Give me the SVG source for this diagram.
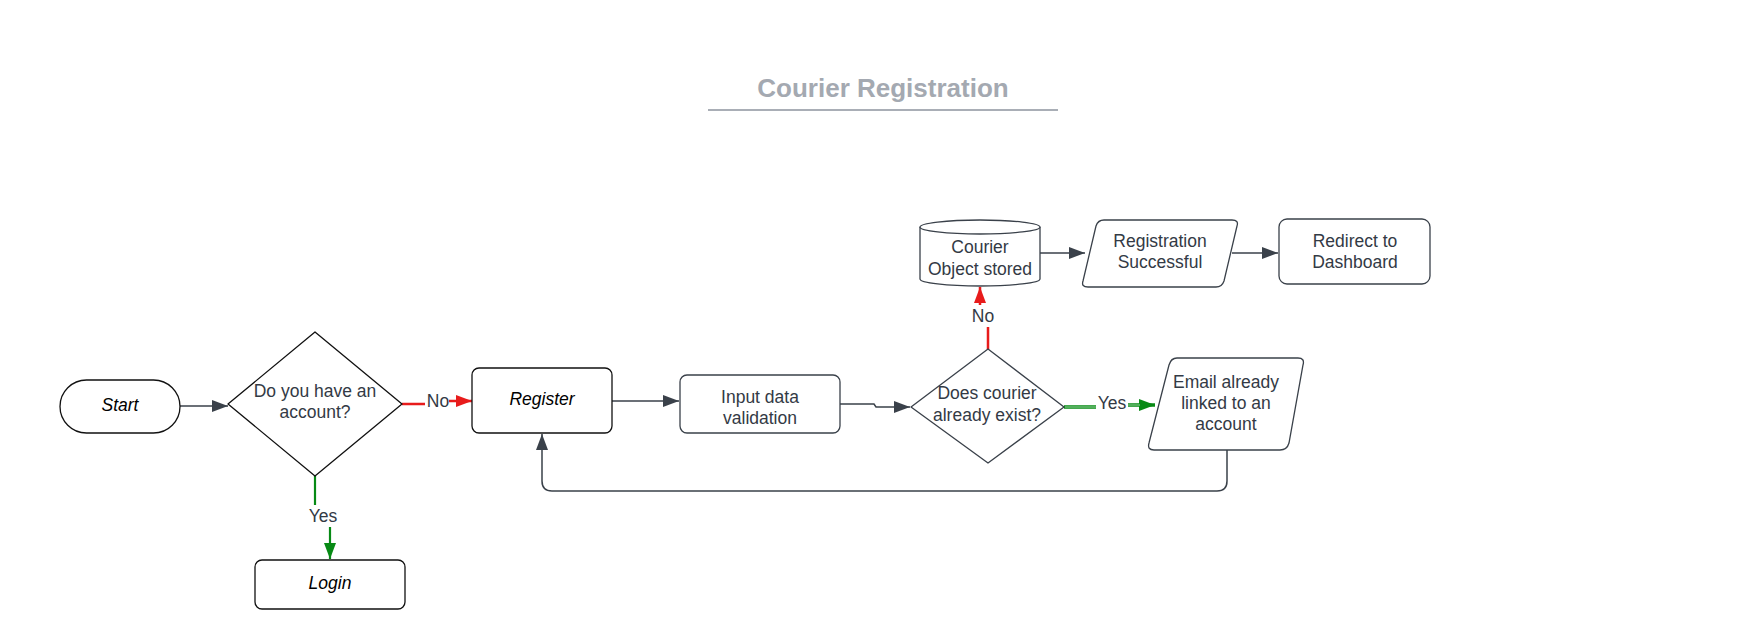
<svg xmlns="http://www.w3.org/2000/svg" width="1760" height="638" viewBox="0 0 1760 638">
<defs>
<marker id="ad" markerUnits="userSpaceOnUse" markerWidth="16" markerHeight="12" refX="16" refY="6" orient="auto"><path d="M0,0 L16,6 L0,12 Z" fill="#3a414a"/></marker>
<marker id="ar" markerUnits="userSpaceOnUse" markerWidth="16" markerHeight="12" refX="16" refY="6" orient="auto"><path d="M0,0 L16,6 L0,12 Z" fill="#e81b1b"/></marker>
<marker id="ag" markerUnits="userSpaceOnUse" markerWidth="16" markerHeight="12" refX="16" refY="6" orient="auto"><path d="M0,0 L16,6 L0,12 Z" fill="#078a15"/></marker>
<style>
.t{font-family:"Liberation Sans",Arial,sans-serif;font-size:17.5px;fill:#333a45;text-anchor:middle}
.i{font-style:italic;fill:#000}
.nb{fill:#fff;stroke:#111;stroke-width:1.3}
.ng{fill:#fff;stroke:#3a414a;stroke-width:1.3}
.c{fill:none;stroke:#3a414a;stroke-width:1.5}
.cr{fill:none;stroke:#e81b1b;stroke-width:2.5}
.cg{fill:none;stroke:#078a15;stroke-width:2.2}
.cg2{fill:none;stroke:#078a15;stroke-width:3.4}
.cgi{fill:none;stroke:#9fd6a4;stroke-width:1}
.lb{fill:#fff}
</style>
</defs>
<rect width="1760" height="638" fill="#fff"/>
<g id="title">
<text x="883" y="97" style="font-family:'Liberation Sans',Arial,sans-serif;font-size:26px;font-weight:bold;fill:#a4a9b1;text-anchor:middle">Courier Registration</text>
<line x1="708" y1="110" x2="1058" y2="110" stroke="#a9aeb6" stroke-width="2"/>
</g>
<g id="connectors">
<path class="c" d="M180,406 L228,406" marker-end="url(#ad)"/>
<path class="cr" d="M402,404 L437,404 L437,401 L472,401" marker-end="url(#ar)"/>
<path class="cg" d="M315,476 L315,516 L330,516 L330,559" marker-end="url(#ag)"/>
<path class="c" d="M612,401 L679,401" marker-end="url(#ad)"/>
<path class="c" d="M840,404 L874,404 L876,407 L910,407" marker-end="url(#ad)"/>
<path class="cr" d="M988,349 L988,316 L980,316 L980,287" marker-end="url(#ar)"/>
<path class="cg2" d="M1064,407 L1111,407 L1111,405 L1155,405" marker-end="url(#ag)"/>
<path class="cgi" d="M1065,407 L1098,407 M1124,405 L1140,405"/>
<path class="c" d="M1040,253 L1085,253" marker-end="url(#ad)"/>
<path class="c" d="M1232,253 L1278,253" marker-end="url(#ad)"/>
<path class="c" d="M1227,450 L1227,481 Q1227,491 1217,491 L552,491 Q542,491 542,481 L542,434" marker-end="url(#ad)"/>
<rect class="lb" x="425" y="390" width="24" height="22"/>
<text class="t" x="438" y="407">No</text>
<rect class="lb" x="307" y="505" width="33" height="22"/>
<text class="t" x="323" y="522">Yes</text>
<rect class="lb" x="971" y="305" width="24" height="22"/>
<text class="t" x="983" y="322">No</text>
<rect class="lb" x="1096" y="392" width="32" height="22"/>
<text class="t" x="1112" y="409">Yes</text>
</g>
<g id="start">
<rect class="nb" x="60" y="380" width="120" height="53" rx="26.5"/>
<text class="t i" x="120" y="411">Start</text>
</g>
<g id="q-account">
<path class="nb" d="M315,332 L402,404 L315,476 L228,404 Z" stroke-linejoin="round"/>
<text class="t" x="315" y="397">Do you have an</text>
<text class="t" x="315" y="418">account?</text>
</g>
<g id="login">
<rect class="nb" x="255" y="560" width="150" height="49" rx="7"/>
<text class="t i" x="330" y="589">Login</text>
</g>
<g id="register">
<rect class="nb" x="472" y="368" width="140" height="65" rx="7"/>
<text class="t i" x="542" y="405">Register</text>
</g>
<g id="validation">
<rect class="ng" x="680" y="375" width="160" height="58" rx="7"/>
<text class="t" x="760" y="403">Input data</text>
<text class="t" x="760" y="424">validation</text>
</g>
<g id="q-exists">
<path class="ng" d="M988,349 L1064,407 L988,463 L911,407 Z" stroke-linejoin="round"/>
<text class="t" x="987" y="399">Does courier</text>
<text class="t" x="987" y="421">already exist?</text>
</g>
<g id="email-linked">
<path class="ng" d="M1177,358 L1298,358 Q1305,358 1303,365 L1289,443 Q1287,450 1280,450 L1154,450 Q1147,450 1149,443 L1169,365 Q1171,358 1177,358 Z"/>
<text class="t" x="1226" y="388">Email already</text>
<text class="t" x="1226" y="409">linked to an</text>
<text class="t" x="1226" y="430">account</text>
</g>
<g id="stored">
<path class="ng" d="M920,227 A60,7 0 0 1 1040,227 L1040,279 A60,7 0 0 1 920,279 Z"/>
<path class="ng" fill="none" d="M920,227 A60,7 0 0 0 1040,227"/>
<text class="t" x="980" y="253">Courier</text>
<text class="t" x="980" y="275">Object stored</text>
</g>
<g id="success">
<path class="ng" d="M1104,220 L1232,220 Q1239,220 1237,226 L1224,281 Q1222,287 1216,287 L1088,287 Q1081,287 1083,281 L1096,226 Q1098,220 1104,220 Z"/>
<text class="t" x="1160" y="247">Registration</text>
<text class="t" x="1160" y="268">Successful</text>
</g>
<g id="redirect">
<rect class="ng" x="1279" y="219" width="151" height="65" rx="8"/>
<text class="t" x="1355" y="247">Redirect to</text>
<text class="t" x="1355" y="268">Dashboard</text>
</g>
</svg>
